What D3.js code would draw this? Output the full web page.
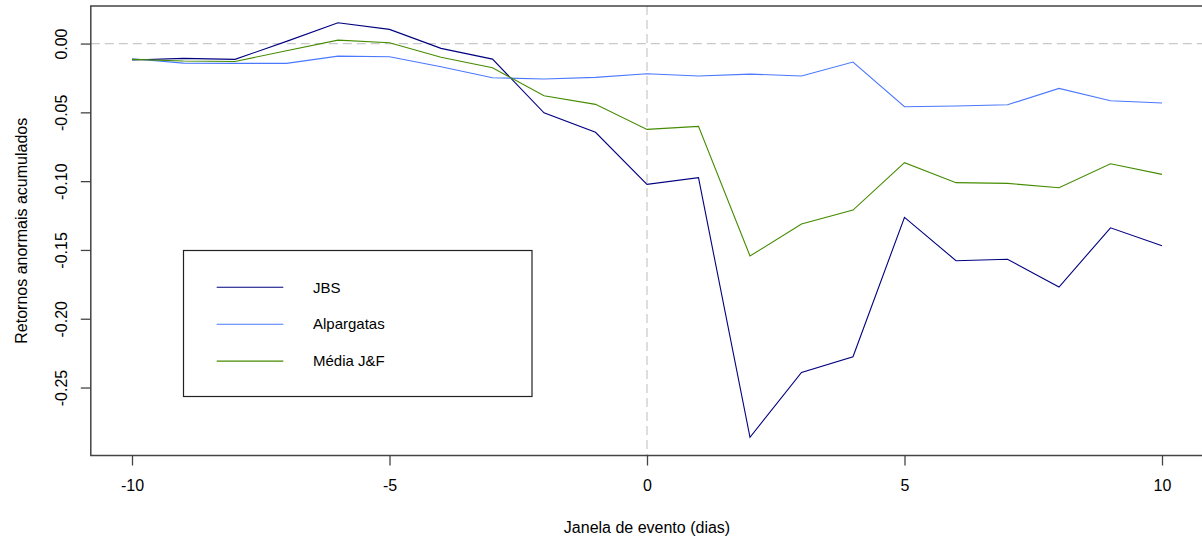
<!DOCTYPE html>
<html>
<head>
<meta charset="utf-8">
<script src="https://cdn.jsdelivr.net/npm/d3@7"></script>
<style>
  html, body { margin: 0; padding: 0; background: #fff; }
  svg { display: block; font-family: "Liberation Sans", Arial, sans-serif; }
</style>
</head>
<body>
<svg id="chart" width="1202" height="542"></svg>
<script>
// Event window (days relative to the event)
const days = [-10, -9, -8, -7, -6, -5, -4, -3, -2, -1, 0, 1, 2, 3, 4, 5, 6, 7, 8, 9, 10];

// Cumulative abnormal returns per series
const jbs = [-0.012, -0.0108, -0.0115, 0.0016, 0.0151, 0.0103, -0.0035, -0.0113, -0.0503, -0.0645,
  -0.1023, -0.0975, -0.2862, -0.2390, -0.2276, -0.1263, -0.1578, -0.1568, -0.1770, -0.1339, -0.1470];
const alpargatas = [-0.0110, -0.0142, -0.0144, -0.0144, -0.0091, -0.0096, -0.0168, -0.0248, -0.0258, -0.0246,
  -0.0219, -0.0236, -0.0222, -0.0236, -0.0134, -0.0459, -0.0454, -0.0445, -0.0326, -0.0416, -0.0432];
const mediaJF = [-0.0115, -0.0127, -0.0130, -0.0052, 0.0025, 0.0006, -0.0100, -0.0176, -0.0379, -0.0442,
  -0.0624, -0.0602, -0.1544, -0.1312, -0.1210, -0.0866, -0.1011, -0.1016, -0.1048, -0.0874, -0.0951];

const seriesNames = ["JBS", "Alpargatas", "Média J&F"];
const seriesColors = ["#00007f", "#4a78ff", "#458b00"];
const seriesValues = [jbs, alpargatas, mediaJF];

const xTicks = [-10, -5, 0, 5, 10];
const yTicks = [0, -0.05, -0.10, -0.15, -0.20, -0.25];

const xLabel = "Janela de evento (dias)";
const yLabel = "Retornos anormais acumulados";

const svg = d3.select("#chart");

// Plot region (data range padded 4% on each side)
const x = d3.scaleLinear().domain([-10.8, 10.8]).range([90.8, 1203.2]);
const y = d3.scaleLinear().domain([-0.2994, 0.0273]).range([455.5, 6]);

const axisColor = "#444";

// Reference lines at zero return and at the event day
svg.append("line")
  .attr("x1", x(-10.8)).attr("x2", x(10.8))
  .attr("y1", y(0)).attr("y2", y(0))
  .attr("stroke", "#c8c8c8").attr("stroke-width", 1.2)
  .attr("stroke-dasharray", "9,5");
svg.append("line")
  .attr("x1", x(0)).attr("x2", x(0))
  .attr("y1", y(0.0273)).attr("y2", y(-0.2994))
  .attr("stroke", "#c8c8c8").attr("stroke-width", 1.2)
  .attr("stroke-dasharray", "9,5");

// Series lines
const line = d3.line()
  .x((d, i) => x(days[i]))
  .y(d => y(d));

seriesValues.forEach((vals, k) => {
  svg.append("path")
    .datum(vals)
    .attr("d", line)
    .attr("fill", "none")
    .attr("stroke", seriesColors[k])
    .attr("stroke-width", 1.1)
    .attr("stroke-linejoin", "miter");
});

// Plot frame
svg.append("rect")
  .attr("x", x(-10.8)).attr("y", y(0.0273))
  .attr("width", x(10.8) - x(-10.8))
  .attr("height", y(-0.2994) - y(0.0273))
  .attr("fill", "none")
  .attr("stroke", axisColor).attr("stroke-width", 1.5);

// X axis
const xAxis = svg.append("g")
  .attr("transform", `translate(0,${y(-0.2994)})`)
  .call(d3.axisBottom(x).tickValues(xTicks).tickSize(10).tickPadding(14)
    .tickFormat(d => String(d)));
xAxis.select(".domain").remove();
xAxis.selectAll(".tick line").attr("stroke", axisColor).attr("stroke-width", 1.3);
xAxis.selectAll(".tick text")
  .attr("fill", "#000").attr("font-size", 16)
  .attr("font-family", "Liberation Sans, Arial, sans-serif");

// Y axis
const yAxis = svg.append("g")
  .attr("transform", `translate(${x(-10.8)},0)`)
  .call(d3.axisLeft(y).tickValues(yTicks).tickSize(10).tickFormat(d => d.toFixed(2)));
yAxis.select(".domain").remove();
yAxis.selectAll(".tick line").attr("stroke", axisColor).attr("stroke-width", 1.3);
yAxis.selectAll(".tick text")
  .attr("fill", "#000").attr("font-size", 16)
  .attr("font-family", "Liberation Sans, Arial, sans-serif")
  .attr("x", null).attr("dy", null)
  .attr("text-anchor", "middle")
  .attr("transform", "translate(-24,0) rotate(-90)");

// Axis titles
svg.append("text")
  .attr("x", x(0)).attr("y", 533)
  .attr("text-anchor", "middle")
  .attr("font-size", 16)
  .text(xLabel);
svg.append("text")
  .attr("transform", `translate(27,${(y(0.0273) + y(-0.2994)) / 2}) rotate(-90)`)
  .attr("text-anchor", "middle")
  .attr("font-size", 16)
  .text(yLabel);

// Legend
const legend = svg.append("g");
legend.append("rect")
  .attr("x", 183.5).attr("y", 250.5)
  .attr("width", 348.5).attr("height", 146)
  .attr("fill", "#fff")
  .attr("stroke", "#222").attr("stroke-width", 1.2);
seriesNames.forEach((name, k) => {
  const ly = 287.3 + k * 36.9;
  legend.append("line")
    .attr("x1", 216.7).attr("x2", 283.3)
    .attr("y1", ly).attr("y2", ly)
    .attr("stroke", seriesColors[k]).attr("stroke-width", 1.1);
  legend.append("text")
    .attr("x", 313).attr("y", ly)
    .attr("dy", "0.35em")
    .attr("font-size", 15)
    .text(name);
});
</script>
</body>
</html>
